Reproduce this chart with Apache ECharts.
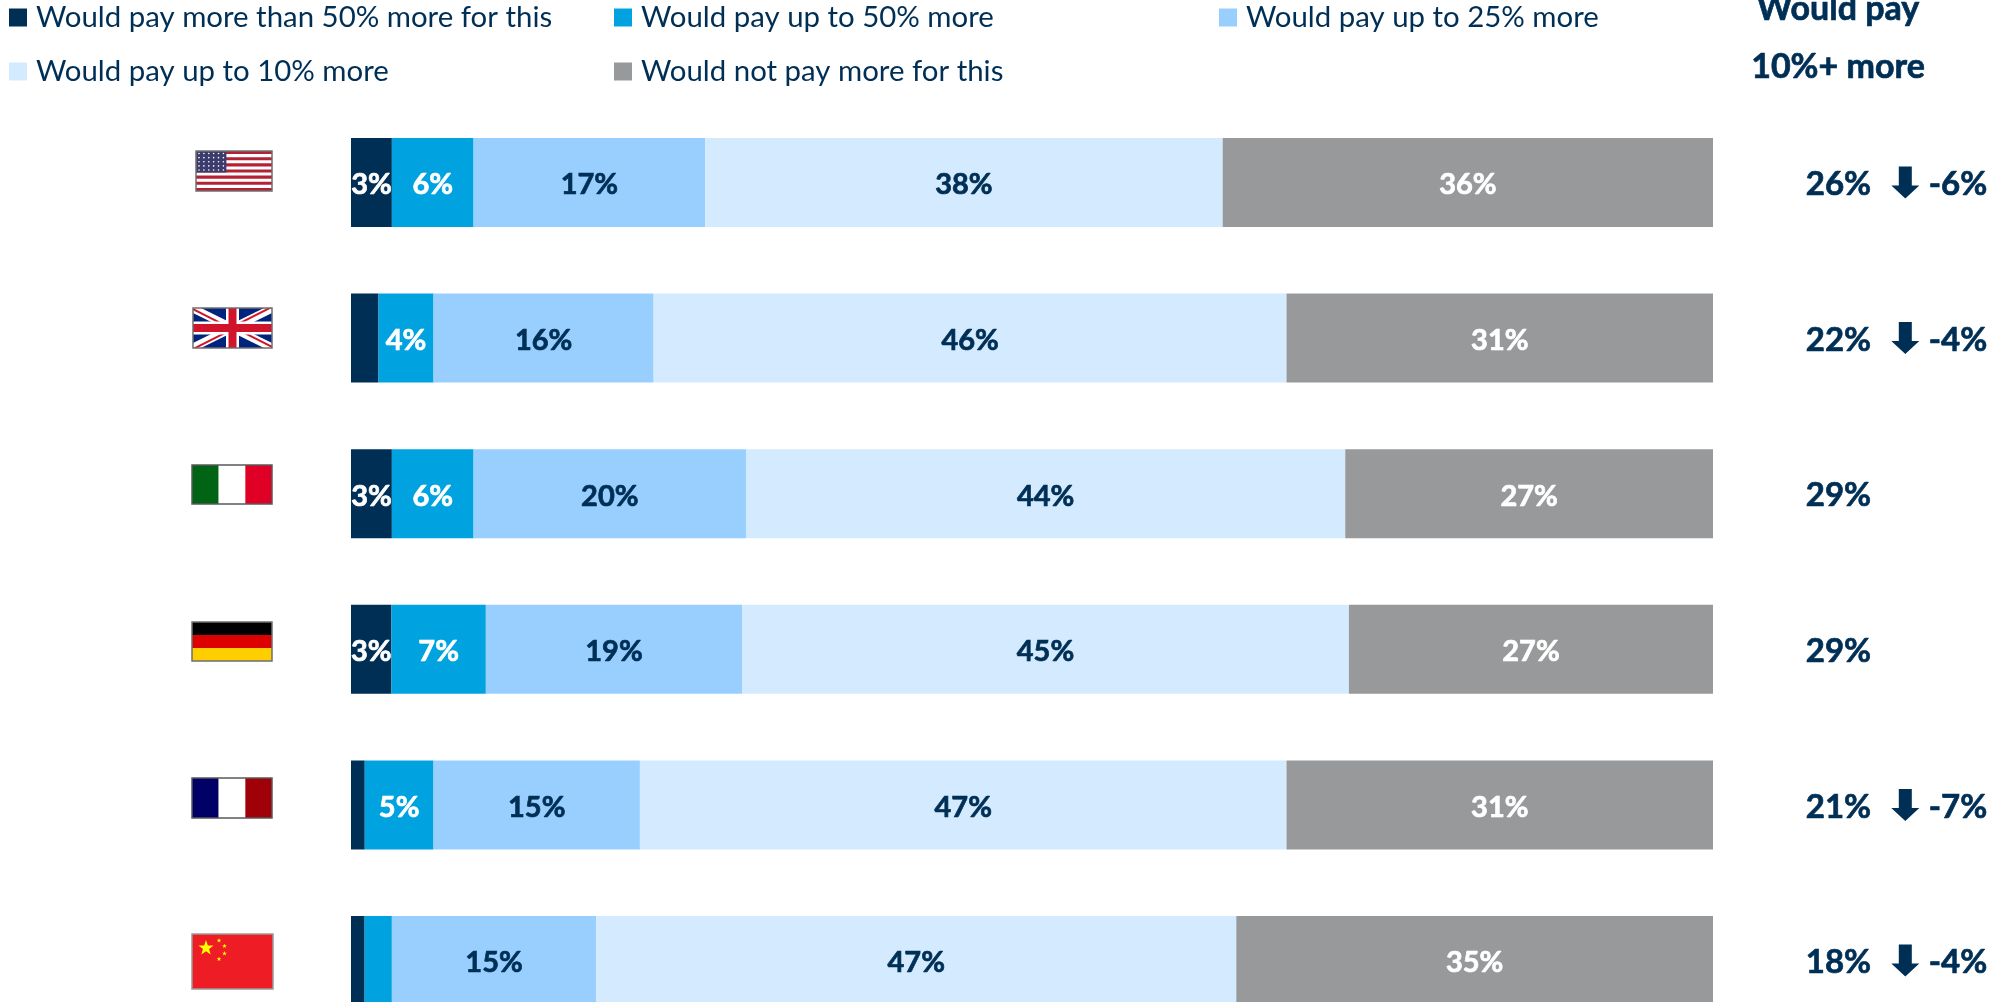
<!DOCTYPE html>
<html><head><meta charset="utf-8">
<style>html,body{margin:0;padding:0;background:#fff;width:2005px;height:1002px;overflow:hidden}#c{width:2005px;height:1040px}</style>
<script src="https://cdn.jsdelivr.net/npm/echarts@6/dist/echarts.min.js"></script>
</head><body><div id="c"></div>
<script>
const countries = ['USA','UK','Italy','Germany','France','China'];
const seriesNames = ['Would pay more than 50% more for this','Would pay up to 50% more','Would pay up to 25% more','Would pay up to 10% more','Would not pay more for this'];
const over50 = [3,2,3,3,1,1];
const upTo50 = [6,4,6,7,5,2];
const upTo25 = [17,16,20,19,15,15];
const upTo10 = [38,46,44,45,47,47];
const noMore = [36,31,27,27,31,35];
const total10Plus = [26,22,29,29,21,18];
const change = [-6,-4,null,null,-7,-4];

const NAVY='#002F56', BLUE='#00A3E0', LIGHT='#99CFFF', PALE='#D4EAFE', GREY='#98999B';
const colors=[NAVY,BLUE,LIGHT,PALE,GREY];
const labelColors=['#fff','#fff',NAVY,NAVY,'#fff'];
const rows=[over50,upTo50,upTo25,upTo10,noMore];
const FONT='Lato, Carlito, sans-serif';
const chart=echarts.init(document.getElementById('c'),null,{renderer:'canvas'});

const legendPos=[[9,3],[614,3],[1219,3],[9,57],[614,57]];
const legends=seriesNames.map((n,i)=>({data:[n],left:legendPos[i][0],top:legendPos[i][1],itemWidth:18,itemHeight:18,
  icon:'rect',textStyle:{color:NAVY,fontFamily:FONT,fontSize:29.4,padding:[0,0,3,4]},selectedMode:false,padding:0}));

const barSeries=seriesNames.map((n,s)=>({
  name:n,type:'bar',stack:'all',barWidth:89,xAxisIndex:0,yAxisIndex:0,
  itemStyle:{color:colors[s]},
  data:countries.map((c,i)=>{const tot=rows.reduce((a,r)=>a+r[i],0);return {value:rows[s][i]/tot*100,raw:rows[s][i]};}),
  label:{show:true,position:'inside',offset:[0,2.5],color:labelColors[s],textBorderColor:labelColors[s],textBorderWidth:0.7,fontFamily:FONT,fontWeight:'bold',fontSize:29,
    formatter:p=>p.data.raw>=3?p.data.raw+'%':''},
  emphasis:{disabled:true},animation:false
}));

const COL_TOTAL=125.5, COL_ARROW=192.3, COL_DELTA=245;
const sideLabel={show:true,position:'inside',offset:[0,2],color:NAVY,textBorderColor:NAVY,textBorderWidth:0.7,fontFamily:FONT,fontWeight:'bold',fontSize:33};
const sideSeries=[
 {type:'scatter',xAxisIndex:1,yAxisIndex:1,symbolSize:1,itemStyle:{color:'transparent',opacity:1},silent:true,animation:false,
  data:total10Plus.map((v,i)=>({value:[COL_TOTAL,i],t:v})),label:{...sideLabel,formatter:p=>p.data.t+'%'}},
 {type:'scatter',xAxisIndex:1,yAxisIndex:1,symbol:'path://M7.5,0H20.5V19H28L14,32L0,19H7.5Z',symbolSize:[28,32],itemStyle:{color:NAVY,opacity:1},silent:true,animation:false,
  data:change.map((v,i)=>v===null?null:[COL_ARROW,i]).filter(Boolean)},
 {type:'scatter',xAxisIndex:1,yAxisIndex:1,symbolSize:1,itemStyle:{color:'transparent',opacity:1},silent:true,animation:false,
  data:change.map((v,i)=>v===null?null:({value:[COL_DELTA,i],t:v})).filter(Boolean),label:{...sideLabel,formatter:p=>p.data.t+'%'}}
];

function R(x,y,w,h,f){return{type:'rect',shape:{x,y,width:w,height:h},style:{fill:f}};}
function P(pts,f){return{type:'polygon',shape:{points:pts},style:{fill:f}};}
function star(cx,cy,r,f){const p=[];for(let k=0;k<10;k++){const a=-Math.PI/2+k*Math.PI/5,q=k%2?r*0.4:r;p.push([cx+q*Math.cos(a),cy+q*Math.sin(a)]);}return P(p,f);}
function flag(x,y,w,h,kids,border){
  return {type:'group',x,y,silent:true,children:[...kids,{type:'rect',shape:{x:0,y:0,width:w,height:h},style:{fill:'none',stroke:border||'#6f6f6f',lineWidth:1.5}}]};
}
function usFlag(x,y,w,h){const k=[R(0,0,w,h,'#fff')];const sh=h/13;for(let i=0;i<13;i+=2)k.push(R(0,i*sh,w,sh,'#B22234'));
  const cw=w*0.4,ch=sh*7;k.push(R(0,0,cw,ch,'#3C3B6E'));
  for(let r=0;r<5;r++)for(let c=0;c<6;c++)k.push({type:'circle',shape:{cx:3+c*(cw-6)/5,cy:2.5+r*(ch-5)/4,r:0.8},style:{fill:'#fff'}});
  return flag(x,y,w,h,k);}
function ukFlag(x,y,w,h){const a=w,b=h,B='#00247D',W='#fff',C='#CF142B';const d=5,e=2.2;
  return flag(x,y,w,h,[R(0,0,w,h,B),
   P([[0,0],[d*1.6,0],[a,b-d],[a,b],[a-d*1.6,b],[0,d]],W),
   P([[a,0],[a-d*1.6,0],[0,b-d],[0,b],[d*1.6,b],[a,d]],W),
   P([[0,0],[a/2,b/2],[a/2-e*2,b/2],[0,e]],C),P([[a,b],[a/2,b/2],[a/2+e*2,b/2],[a,b-e]],C),
   P([[a,0],[a/2,b/2],[a/2,b/2-e],[a-e*2,0]],C),P([[0,b],[a/2,b/2],[a/2,b/2+e],[e*2,b]],C),
   R(a/2-6.5,0,13,b,W),R(0,b/2-6.5,a,13,W),R(a/2-4,0,8,b,C),R(0,b/2-4,a,8,C)]);}
function tri3(x,y,w,h,c1,c2,c3){return flag(x,y,w,h,[R(0,0,w/3,h,c1),R(w/3,0,w/3,h,c2),R(2*w/3,0,w/3,h,c3)],'#5a5a5a');}
function deFlag(x,y,w,h){return flag(x,y,w,h,[R(0,0,w,h/3,'#000'),R(0,h/3,w,h/3,'#DD0000'),R(0,2*h/3,w,h/3,'#FFCE00')]);}
function cnFlag(x,y,w,h){const Y='#FFFF00';return flag(x,y,w,h,[R(0,0,w,h,'#EE1C25'),star(14,14,8,Y),star(27,6.5,2.5,Y),star(32.5,12,2.5,Y),star(32.5,19.5,2.5,Y),star(27,25,2.5,Y)],'#9a9a9a');}

const flags=[usFlag(196,151,76,40),ukFlag(193,308,79,40),tri3(192,465,80,39,'#006414','#fff','#E10025'),deFlag(192,622,80,39),tri3(192,778,80,40,'#000066','#fff','#A00008'),cnFlag(192,934,81,55)];

const texts=[
 {type:'text',x:1838,y:9,silent:true,style:{text:'Would pay',fill:NAVY,stroke:NAVY,lineWidth:0.7,font:'bold 34px '+FONT,align:'center',verticalAlign:'middle'}},
 {type:'text',x:1838,y:67,silent:true,style:{text:'10%+ more',fill:NAVY,stroke:NAVY,lineWidth:0.7,font:'bold 34px '+FONT,align:'center',verticalAlign:'middle'}}
];

chart.setOption({
 animation:false,backgroundColor:'#fff',
 legend:legends,tooltip:{show:false},
 grid:[{left:351,width:1362,top:104.7,height:933.6,containLabel:false},{left:1713,width:292,top:104.7,height:933.6}],
 xAxis:[{type:'value',gridIndex:0,min:0,max:100,show:false},{type:'value',gridIndex:1,min:0,max:292,show:false}],
 yAxis:[{type:'category',gridIndex:0,data:countries,inverse:true,show:false},{type:'category',gridIndex:1,data:countries,inverse:true,show:false}],
 series:[...barSeries,...sideSeries],
 graphic:[...flags,...texts]
});
</script></body></html>
